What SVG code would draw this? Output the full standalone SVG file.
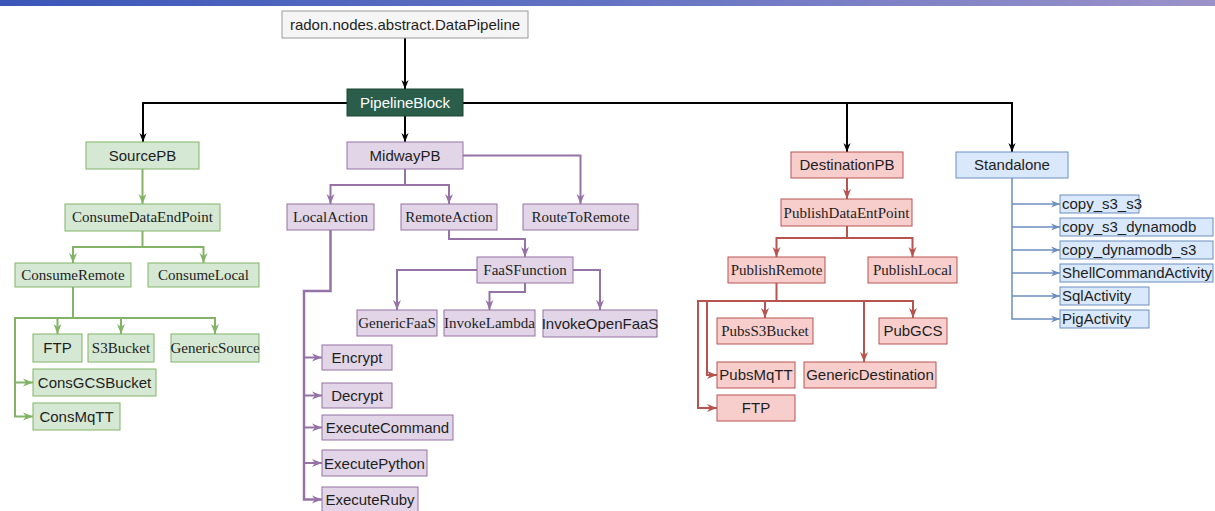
<svg xmlns="http://www.w3.org/2000/svg" width="1215" height="511" viewBox="0 0 1215 511">
  <defs>
    <linearGradient id="band" x1="0" y1="0" x2="1" y2="0">
      <stop offset="0" stop-color="#3a56b8"/>
      <stop offset="0.5" stop-color="#6373c3"/>
      <stop offset="1" stop-color="#9c92c9"/>
    </linearGradient>
    <marker id="ah-black" viewBox="0 0 10 10" refX="10" refY="5" markerWidth="9" markerHeight="9" markerUnits="userSpaceOnUse" orient="auto">
      <path d="M0,1 L10,5 L0,9 L3,5 Z" fill="#000"/>
    </marker>
    <marker id="ah-green" viewBox="0 0 10 10" refX="10" refY="5" markerWidth="10" markerHeight="10" markerUnits="userSpaceOnUse" orient="auto">
      <path d="M0,1 L10,5 L0,9 L3,5 Z" fill="#82b366"/>
    </marker>
    <marker id="ah-purple" viewBox="0 0 10 10" refX="10" refY="5" markerWidth="10" markerHeight="10" markerUnits="userSpaceOnUse" orient="auto">
      <path d="M0,1 L10,5 L0,9 L3,5 Z" fill="#9673a6"/>
    </marker>
    <marker id="ah-red" viewBox="0 0 10 10" refX="10" refY="5" markerWidth="10" markerHeight="10" markerUnits="userSpaceOnUse" orient="auto">
      <path d="M0,1 L10,5 L0,9 L3,5 Z" fill="#b85450"/>
    </marker>
    <marker id="ah-blue" viewBox="0 0 10 10" refX="10" refY="5" markerWidth="9" markerHeight="9" markerUnits="userSpaceOnUse" orient="auto">
      <path d="M0,1 L10,5 L0,9 L3,5 Z" fill="#6c8ebf"/>
    </marker>
  </defs>
  <style>
    text { font-size: 15px; fill: #1e1e1e; text-anchor: middle; }
    .sans { font-family: "Liberation Sans", Arial, Helvetica, sans-serif; }
    .serif { font-family: "Liberation Serif", "Times New Roman", serif; }
    .left { text-anchor: start; }
    .root rect { fill: #f5f5f5; stroke: #999999; stroke-width: 1; }
    .core rect { fill: #2b5d4b; stroke: #1d4538; stroke-width: 1; }
    .core text { fill: #ffffff; }
    .green rect { fill: #d5e8d4; stroke: #82b366; stroke-width: 1; }
    .purple rect { fill: #e1d5e7; stroke: #9673a6; stroke-width: 1; }
    .red rect { fill: #f8cecc; stroke: #b85450; stroke-width: 1; }
    .blue rect { fill: #dae8fc; stroke: #6c8ebf; stroke-width: 1; }
    #connectors path { fill: none; stroke-linejoin: miter; }
    .k { stroke: #000; stroke-width: 2; }
    .g { stroke: #82b366; stroke-width: 2; }
    .p { stroke: #9673a6; stroke-width: 2; }
    .r { stroke: #b85450; stroke-width: 2; }
    .b { stroke: #6c8ebf; stroke-width: 1.5; }
    .k.arr { marker-end: url(#ah-black); }
    .g.arr { marker-end: url(#ah-green); }
    .p.arr { marker-end: url(#ah-purple); }
    .r.arr { marker-end: url(#ah-red); }
    .b.arr { marker-end: url(#ah-blue); }
  </style>

  <rect x="0" y="0" width="1215" height="511" fill="#ffffff"/>
  <rect x="0" y="0" width="1215" height="6" fill="url(#band)"/>

  <g id="connectors">
    <!-- top-level hierarchy -->
    <path class="k arr" d="M405,38 V89"/>
    <path class="k arr" d="M347,103 H143 V142"/>
    <path class="k arr" d="M405,116 V142"/>
    <path class="k arr" d="M463,103 H1012 V152"/>
    <path class="k arr" d="M847,103 V152"/>

    <!-- source branch -->
    <path class="g arr" d="M142.5,169 V204"/>
    <path class="g arr" d="M142.5,231 V247 H73 V263"/>
    <path class="g arr" d="M142.5,247 H203.5 V263"/>
    <path class="g arr" d="M73,287 V318 H57.5 V334"/>
    <path class="g arr" d="M73,318 H121 V334"/>
    <path class="g arr" d="M121,318 H215 V334"/>
    <path class="g arr" d="M57.5,318 H15 V382.5 H33"/>
    <path class="g arr" d="M15,382.5 V416.5 H33"/>

    <!-- midway branch -->
    <path class="p arr" d="M405,169 V185 H330.5 V204"/>
    <path class="p arr" d="M405,185 H449 V204"/>
    <path class="p arr" d="M463,155.5 H580.5 V204"/>
    <path class="p arr" d="M449,230 V239 H525 V257"/>
    <path class="p arr" d="M477,270 H397 V310"/>
    <path class="p arr" d="M525,283 V292 H489.5 V310"/>
    <path class="p arr" d="M573,270 H600 V310"/>
    <path class="p arr" style="stroke-width:2.5" d="M330.5,230 V291 H304 V499.5 H322"/>
    <path class="p arr" d="M304,357.5 H322"/>
    <path class="p arr" d="M304,395.5 H322"/>
    <path class="p arr" d="M304,427.5 H322"/>
    <path class="p arr" d="M304,463 H322"/>

    <!-- destination branch -->
    <path class="r arr" d="M847,178 V199"/>
    <path class="r arr" d="M847,226 V238 H776.5 V257"/>
    <path class="r arr" d="M847,238 H912.5 V257"/>
    <path class="r arr" d="M776.5,283 V301 H765 V318"/>
    <path class="r arr" d="M776.5,301 H913 V318"/>
    <path class="r arr" d="M864,301 V362"/>
    <path class="r arr" d="M765,301 H707 V375 H717"/>
    <path class="r arr" d="M707,301 H698 V408 H717"/>

    <!-- standalone branch -->
    <path class="b arr" d="M1012,178 V319 H1060"/>
    <path class="b arr" d="M1012,204 H1060"/>
    <path class="b arr" d="M1012,227 H1060"/>
    <path class="b arr" d="M1012,250 H1060"/>
    <path class="b arr" d="M1012,273 H1060"/>
    <path class="b arr" d="M1012,296 H1060"/>
  </g>

  <!-- root and core block -->
  <g id="data-pipeline" class="root"><rect x="282" y="11" width="246" height="27"/><text class="sans" x="405" y="30">radon.nodes.abstract.DataPipeline</text></g>
  <g id="pipeline-block" class="core"><rect x="347" y="89" width="116" height="27"/><text class="sans" x="405" y="108">PipelineBlock</text></g>

  <!-- source blocks -->
  <g id="source-pb" class="green"><rect x="86" y="142" width="113" height="27"/><text class="sans" x="142.5" y="161">SourcePB</text></g>
  <g id="consume-data-endpoint" class="green"><rect x="65" y="204" width="155" height="27"/><text class="serif" x="142.5" y="222">ConsumeDataEndPoint</text></g>
  <g id="consume-remote" class="green"><rect x="15" y="263" width="116" height="24"/><text class="serif" x="73" y="280">ConsumeRemote</text></g>
  <g id="consume-local" class="green"><rect x="148" y="263" width="111" height="24"/><text class="serif" x="203.5" y="280">ConsumeLocal</text></g>
  <g id="src-ftp" class="green"><rect x="33" y="334" width="49" height="28"/><text class="sans" x="57.5" y="353">FTP</text></g>
  <g id="s3-bucket" class="green"><rect x="88" y="334" width="66" height="28"/><text class="serif" x="121" y="353">S3Bucket</text></g>
  <g id="generic-source" class="green"><rect x="171" y="334" width="88" height="28"/><text class="serif" x="215" y="353">GenericSource</text></g>
  <g id="cons-gcs-bucket" class="green"><rect x="33" y="369" width="123" height="27"/><text class="sans" x="94.5" y="388">ConsGCSBucket</text></g>
  <g id="cons-mqtt" class="green"><rect x="33" y="403" width="87" height="27"/><text class="sans" x="76.5" y="422">ConsMqTT</text></g>

  <!-- midway blocks -->
  <g id="midway-pb" class="purple"><rect x="347" y="142" width="116" height="27"/><text class="sans" x="405" y="161">MidwayPB</text></g>
  <g id="local-action" class="purple"><rect x="287" y="204" width="87" height="26"/><text class="serif" x="330.5" y="222">LocalAction</text></g>
  <g id="remote-action" class="purple"><rect x="401" y="204" width="96" height="26"/><text class="serif" x="449" y="222">RemoteAction</text></g>
  <g id="route-to-remote" class="purple"><rect x="523" y="204" width="115" height="26"/><text class="serif" x="580.5" y="222">RouteToRemote</text></g>
  <g id="faas-function" class="purple"><rect x="477" y="257" width="96" height="26"/><text class="serif" x="525" y="275">FaaSFunction</text></g>
  <g id="generic-faas" class="purple"><rect x="357" y="310" width="80" height="26"/><text class="serif" x="397" y="328">GenericFaaS</text></g>
  <g id="invoke-lambda" class="purple"><rect x="444" y="310" width="91" height="26"/><text class="serif" x="489.5" y="328">InvokeLambda</text></g>
  <g id="invoke-openfaas" class="purple"><rect x="543" y="310" width="114" height="27"/><text class="sans" x="600" y="329">InvokeOpenFaaS</text></g>
  <g id="encrypt" class="purple"><rect x="322" y="345" width="70" height="25"/><text class="sans" x="357" y="363">Encrypt</text></g>
  <g id="decrypt" class="purple"><rect x="322" y="383" width="70" height="25"/><text class="sans" x="357" y="401">Decrypt</text></g>
  <g id="execute-command" class="purple"><rect x="322" y="415" width="131" height="25"/><text class="sans" x="387.5" y="433">ExecuteCommand</text></g>
  <g id="execute-python" class="purple"><rect x="322" y="450" width="105" height="26"/><text class="sans" x="374.5" y="468.5">ExecutePython</text></g>
  <g id="execute-ruby" class="purple"><rect x="322" y="487" width="96" height="25"/><text class="sans" x="370" y="505">ExecuteRuby</text></g>

  <!-- destination blocks -->
  <g id="destination-pb" class="red"><rect x="791" y="152" width="112" height="26"/><text class="sans" x="847" y="170">DestinationPB</text></g>
  <g id="publish-data-entpoint" class="red"><rect x="781" y="199" width="131" height="27"/><text class="serif" x="846.5" y="217.5">PublishDataEntPoint</text></g>
  <g id="publish-remote" class="red"><rect x="728" y="257" width="97" height="26"/><text class="serif" x="776.5" y="275">PublishRemote</text></g>
  <g id="publish-local" class="red"><rect x="868" y="257" width="89" height="26"/><text class="serif" x="912.5" y="275">PublishLocal</text></g>
  <g id="pubs-s3-bucket" class="red"><rect x="717" y="318" width="96" height="26"/><text class="serif" x="765" y="336">PubsS3Bucket</text></g>
  <g id="pub-gcs" class="red"><rect x="879" y="318" width="68" height="26"/><text class="sans" x="913" y="336">PubGCS</text></g>
  <g id="pubs-mqtt" class="red"><rect x="717" y="362" width="78" height="26"/><text class="sans" x="756" y="380">PubsMqTT</text></g>
  <g id="generic-destination" class="red"><rect x="804" y="362" width="132" height="26"/><text class="sans" x="870" y="380">GenericDestination</text></g>
  <g id="dst-ftp" class="red"><rect x="717" y="395" width="78" height="26"/><text class="sans" x="756" y="413">FTP</text></g>

  <!-- standalone blocks -->
  <g id="standalone" class="blue"><rect x="956" y="152" width="112" height="26"/><text class="sans" x="1012" y="170">Standalone</text></g>
  <g id="copy-s3-s3" class="blue"><rect x="1060" y="195" width="79" height="18"/><text class="sans left" x="1062" y="209">copy_s3_s3</text></g>
  <g id="copy-s3-dynamodb" class="blue"><rect x="1060" y="218" width="153" height="18"/><text class="sans left" x="1062" y="232">copy_s3_dynamodb</text></g>
  <g id="copy-dynamodb-s3" class="blue"><rect x="1060" y="241" width="153" height="18"/><text class="sans left" x="1062" y="255">copy_dynamodb_s3</text></g>
  <g id="shell-command-activity" class="blue"><rect x="1060" y="264" width="153" height="18"/><text class="sans left" x="1062" y="278">ShellCommandActivity</text></g>
  <g id="sql-activity" class="blue"><rect x="1060" y="287" width="89" height="18"/><text class="sans left" x="1062" y="301">SqlActivity</text></g>
  <g id="pig-activity" class="blue"><rect x="1060" y="310" width="89" height="18"/><text class="sans left" x="1062" y="324">PigActivity</text></g>
</svg>
